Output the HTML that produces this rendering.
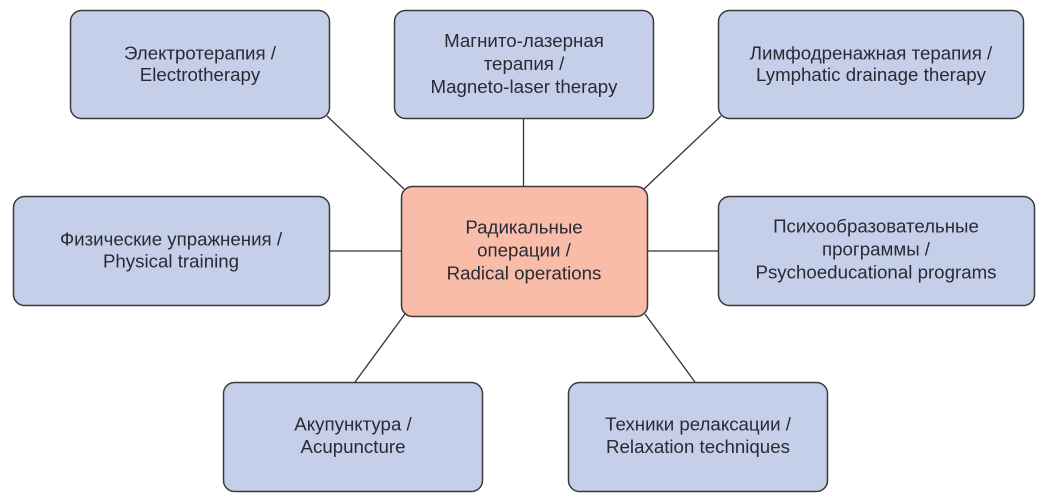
<!DOCTYPE html>
<html>
<head>
<meta charset="utf-8">
<style>
  html,body{margin:0;padding:0;background:#fff;}
  svg{display:block;}
  text{font-family:"Liberation Sans","Noto Sans CJK SC",sans-serif;font-size:18.7px;fill:#2a2a34;text-anchor:middle;}
</style>
</head>
<body>
<svg width="1049" height="502" viewBox="0 0 1049 502" xmlns="http://www.w3.org/2000/svg">
  <g stroke="#333" stroke-width="1.3" fill="none">
    <line x1="327" y1="116" x2="404" y2="189"/>
    <line x1="523.5" y1="119" x2="523.5" y2="186"/>
    <line x1="721" y1="116" x2="644" y2="189"/>
    <line x1="330" y1="251" x2="401" y2="251"/>
    <line x1="718" y1="251" x2="647" y2="251"/>
    <line x1="355" y1="382" x2="405" y2="314"/>
    <line x1="695" y1="382" x2="645" y2="314"/>
  </g>
  <g stroke="#3a3a3a" stroke-width="1.5" fill="#c5cfea">
    <rect x="70.5" y="10.5" width="259" height="108" rx="11"/>
    <rect x="394.5" y="10.5" width="259" height="108" rx="11"/>
    <rect x="718.5" y="10.5" width="305" height="108" rx="11"/>
    <rect x="13.5" y="196.5" width="316" height="109" rx="11"/>
    <rect x="718.5" y="196.5" width="316" height="109" rx="11"/>
    <rect x="223.5" y="382.5" width="259" height="109" rx="11"/>
    <rect x="568.5" y="382.5" width="259" height="109" rx="11"/>
  </g>
  <rect x="401.5" y="186.5" width="246" height="130" rx="11" fill="#f8bca8" stroke="#3a3a3a" stroke-width="1.5"/>

  <text x="200" y="59.5">Электротерапия /</text>
  <text x="200" y="81">Electrotherapy</text>

  <text x="524" y="47">Магнито-лазерная</text>
  <text x="524" y="70">терапия /</text>
  <text x="524" y="93">Magneto-laser therapy</text>

  <text x="871" y="59.5">Лимфодренажная терапия /</text>
  <text x="871" y="81">Lymphatic drainage therapy</text>

  <text x="171" y="245.5">Физические упражнения /</text>
  <text x="171" y="267.5">Physical training</text>

  <text x="524" y="233.5">Радикальные</text>
  <text x="524" y="256.5">операции /</text>
  <text x="524" y="279.5">Radical operations</text>

  <text x="876" y="232.5">Психообразовательные</text>
  <text x="876" y="255.5">программы /</text>
  <text x="876" y="278.5">Psychoeducational programs</text>

  <text x="353" y="430.5">Акупунктура /</text>
  <text x="353" y="453">Acupuncture</text>

  <text x="698" y="430.5">Техники релаксации /</text>
  <text x="698" y="453">Relaxation techniques</text>
</svg>
</body>
</html>
